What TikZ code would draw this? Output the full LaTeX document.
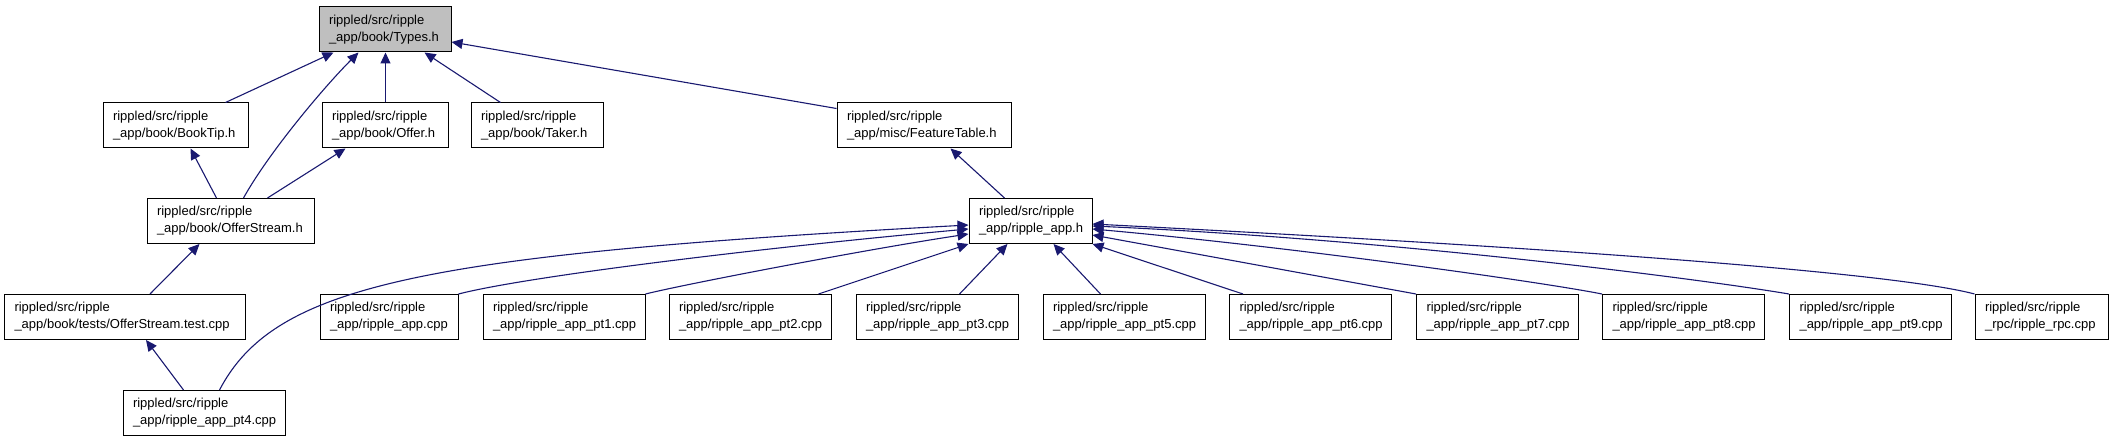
\documentclass[tikz,border=0pt]{standalone}
\usepackage{fontspec}
\setmainfont{Liberation Sans}
\usetikzlibrary{arrows.meta}
\definecolor{navyline}{HTML}{191970}
\definecolor{graybox}{HTML}{BFBFBF}
\tikzset{
  filebox/.style={draw=black, line width=1pt, fill=white, minimum height=45pt,
    inner xsep=10pt, inner ysep=2pt, align=left,
    font=\fontsize{13}{17}\selectfont},
  dep/.style={draw=navyline, line width=1.1pt, -{Triangle[length=11pt,width=10pt]}},
}
\begin{document}
\begin{tikzpicture}[x=1pt,y=-1pt]
\useasboundingbox (0,0) rectangle (2112,443);
% row 1
\node[filebox, fill=graybox, text width=112pt] (types) at (385,29.5) {rippled/src/ripple\\\_app/book/Types.h};
% row 2
\node[filebox, text width=125pt] (booktip) at (175.5,125.5) {rippled/src/ripple\\\_app/book/BookTip.h};
\node[filebox, text width=106pt] (offer) at (385,125.5) {rippled/src/ripple\\\_app/book/Offer.h};
\node[filebox, text width=112pt] (taker) at (537,125.5) {rippled/src/ripple\\\_app/book/Taker.h};
\node[filebox, text width=154pt] (feature) at (924,125.5) {rippled/src/ripple\\\_app/misc/FeatureTable.h};
% row 3
\node[filebox, text width=147pt] (ostream) at (230.5,221) {rippled/src/ripple\\\_app/book/OfferStream.h};
\node[filebox, text width=103pt] (app) at (1030.5,221) {rippled/src/ripple\\\_app/ripple\_app.h};
% row 4
\node[filebox, text width=221pt] (ostest) at (125,317) {rippled/src/ripple\\\_app/book/tests/OfferStream.test.cpp};
\node[filebox, text width=118pt] (appcpp) at (389,317) {rippled/src/ripple\\\_app/ripple\_app.cpp};
\node[filebox, text width=142pt] (pt1) at (564,317) {rippled/src/ripple\\\_app/ripple\_app\_pt1.cpp};
\node[filebox, text width=142pt] (pt2) at (750,317) {rippled/src/ripple\\\_app/ripple\_app\_pt2.cpp};
\node[filebox, text width=142pt] (pt3) at (937,317) {rippled/src/ripple\\\_app/ripple\_app\_pt3.cpp};
\node[filebox, text width=142pt] (pt5) at (1124,317) {rippled/src/ripple\\\_app/ripple\_app\_pt5.cpp};
\node[filebox, text width=142pt] (pt6) at (1310.5,317) {rippled/src/ripple\\\_app/ripple\_app\_pt6.cpp};
\node[filebox, text width=142pt] (pt7) at (1497.5,317) {rippled/src/ripple\\\_app/ripple\_app\_pt7.cpp};
\node[filebox, text width=142pt] (pt8) at (1683.5,317) {rippled/src/ripple\\\_app/ripple\_app\_pt8.cpp};
\node[filebox, text width=142pt] (pt9) at (1870.5,317) {rippled/src/ripple\\\_app/ripple\_app\_pt9.cpp};
\node[filebox, text width=113pt] (rpc) at (2041.5,317) {rippled/src/ripple\\\_rpc/ripple\_rpc.cpp};
% row 5
\node[filebox, text width=142pt] (pt4) at (204,413) {rippled/src/ripple\\\_app/ripple\_app\_pt4.cpp};

% edges to Types.h
\draw[dep] ([xshift=123pt]booktip.north west) -- ([xshift=15pt]types.south west);
\draw[dep] ([xshift=97pt]ostream.north west) .. controls +(25,-45) and +(-35,35) .. ([xshift=40pt]types.south west);
\draw[dep] ([xshift=0.5pt]offer.north) -- ([xshift=0.5pt]types.south);
\draw[dep] ([xshift=30pt]taker.north west) -- ([xshift=-27pt]types.south east);
\draw[dep] ([yshift=-6pt]feature.north west) -- ([yshift=-12.5pt]types.east);
% edges to BookTip / Offer / OfferStream
\draw[dep] ([xshift=70pt]ostream.north west) -- ([xshift=88pt]booktip.south west);
\draw[dep] ([xshift=121pt]ostream.north west) -- ([xshift=24pt]offer.south west);
\draw[dep] ([xshift=146pt]ostest.north west) -- ([xshift=53pt]ostream.south west);
\draw[dep] ([xshift=61pt]pt4.north west) -- ([xshift=142pt]ostest.south west);
% FeatureTable
\draw[dep] ([xshift=36pt]app.north west) -- ([xshift=114pt]feature.south west);
% edges to ripple_app.h, left side
\draw[dep] ([xshift=97pt]pt4.north west) .. controls +(55,-105) and +(-549,30) .. ([yshift=-4pt]app.west);
\draw[dep] (appcpp.north east) .. controls +(70,-18) and +(-200,18) .. ([yshift=-8pt]app.west);
\draw[dep] (pt1.north east) .. controls +(40,-10) and +(-100,15) .. ([yshift=-13pt]app.west);
\draw[dep] ([xshift=-13pt]pt2.north east) -- (app.south west);
\draw[dep] ([xshift=104pt]pt3.north west) -- ([xshift=39pt]app.south west);
\draw[dep] ([xshift=58pt]pt5.north west) -- ([xshift=85pt]app.south west);
\draw[dep] ([xshift=14pt]pt6.north west) -- (app.south east);
% right side
\draw[dep] (pt7.north west) -- ([yshift=-14pt]app.east);
\draw[dep] (pt8.north west) .. controls +(-60,-12) and +(200,18) .. ([yshift=-8pt]app.east);
\draw[dep] (pt9.north west) .. controls +(-89,-15) and +(308,14) .. ([yshift=-5pt]app.east);
\draw[dep] (rpc.north west) .. controls +(-75,-20) and +(508,26) .. ([yshift=-3pt]app.east);
\end{tikzpicture}
\end{document}
